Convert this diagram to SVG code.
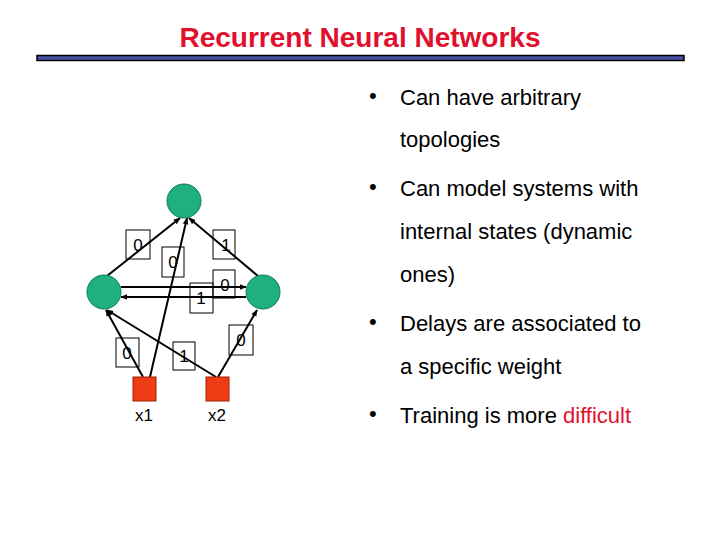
<svg xmlns="http://www.w3.org/2000/svg" width="720" height="540" viewBox="0 0 720 540">
<defs>
<marker id="ah" viewBox="0 0 10 10" refX="9" refY="5" markerWidth="7" markerHeight="7" orient="auto" markerUnits="userSpaceOnUse"><path d="M0,1 L10,5 L0,9 z" fill="#000"/></marker>
<style>
text{font-family:"Liberation Sans",Arial,sans-serif}
.n{fill:#1fb07f;stroke:#0d7a55;stroke-width:1}
.sq{fill:#f03c14;stroke:#a02000;stroke-width:1}
.e{stroke:#000;stroke-width:2;fill:none;marker-end:url(#ah)}
.lb{fill:none;stroke:#000;stroke-width:1}
.lt{font-size:17px}
.b{font-size:22px;fill:#000}
</style>
</defs>
<rect width="720" height="540" fill="#fff"/>
<text x="360" y="47" text-anchor="middle" font-size="28" font-weight="bold" fill="#e0102e">Recurrent Neural Networks</text>
<rect x="37" y="55.5" width="647" height="5" fill="#4a52a8" stroke="#000" stroke-width="1.5"/>
<g id="connectors">
<line class="e" x1="107" y1="276" x2="180" y2="218"/>
<line class="e" x1="150" y1="377" x2="187" y2="218"/>
<line class="e" x1="258" y1="276" x2="189" y2="218"/>
<line class="e" x1="121" y1="287" x2="246" y2="287"/>
<line class="e" x1="246" y1="297" x2="121" y2="297"/>
<line class="e" x1="143" y1="377" x2="106" y2="310"/>
<line class="e" x1="216" y1="377" x2="107" y2="310"/>
<line class="e" x1="218" y1="377" x2="257" y2="310"/>
</g>
<g id="labels">
<rect class="lb" x="126" y="230" width="24" height="29"/><text class="lt" x="138" y="251" text-anchor="middle">0</text>
<rect class="lb" x="162" y="247" width="22" height="30"/><text class="lt" x="173" y="268" text-anchor="middle">0</text>
<rect class="lb" x="213" y="230" width="22" height="29"/><text class="lt" x="226" y="251" text-anchor="middle">1</text>
<rect class="lb" x="213" y="270" width="22" height="28"/><text class="lt" x="225" y="291" text-anchor="middle">0</text>
<rect class="lb" x="190" y="283" width="23" height="30"/><text class="lt" x="201" y="304" text-anchor="middle">1</text>
<rect class="lb" x="116" y="338" width="23" height="29"/><text class="lt" x="127" y="359" text-anchor="middle">0</text>
<rect class="lb" x="173" y="342" width="22" height="28"/><text class="lt" x="184" y="362" text-anchor="middle">1</text>
<rect class="lb" x="229" y="325" width="24" height="30"/><text class="lt" x="241" y="346" text-anchor="middle">0</text>
</g>
<g id="top"><circle class="n" cx="184" cy="201" r="17"/></g>
<g id="left"><circle class="n" cx="104" cy="292" r="17"/></g>
<g id="right"><circle class="n" cx="263" cy="292" r="17"/></g>
<g id="x1"><rect class="sq" x="133" y="377" width="23" height="24"/><text class="lt" x="144" y="421" text-anchor="middle">x1</text></g>
<g id="x2"><rect class="sq" x="206" y="377" width="23" height="24"/><text class="lt" x="217" y="421" text-anchor="middle">x2</text></g>
<g id="bullets">
<text class="b" x="369" y="103">•</text><text class="b" x="400" y="105">Can have arbitrary</text>
<text class="b" x="400" y="147">topologies</text>
<text class="b" x="369" y="194">•</text><text class="b" x="400" y="196">Can model systems with</text>
<text class="b" x="400" y="239">internal states (dynamic</text>
<text class="b" x="400" y="282">ones)</text>
<text class="b" x="369" y="329">•</text><text class="b" x="400" y="331">Delays are associated to</text>
<text class="b" x="400" y="374">a specific weight</text>
<text class="b" x="369" y="421">•</text><text class="b" x="400" y="423">Training is more <tspan fill="#e0102e">difficult</tspan></text>
</g>
</svg>
